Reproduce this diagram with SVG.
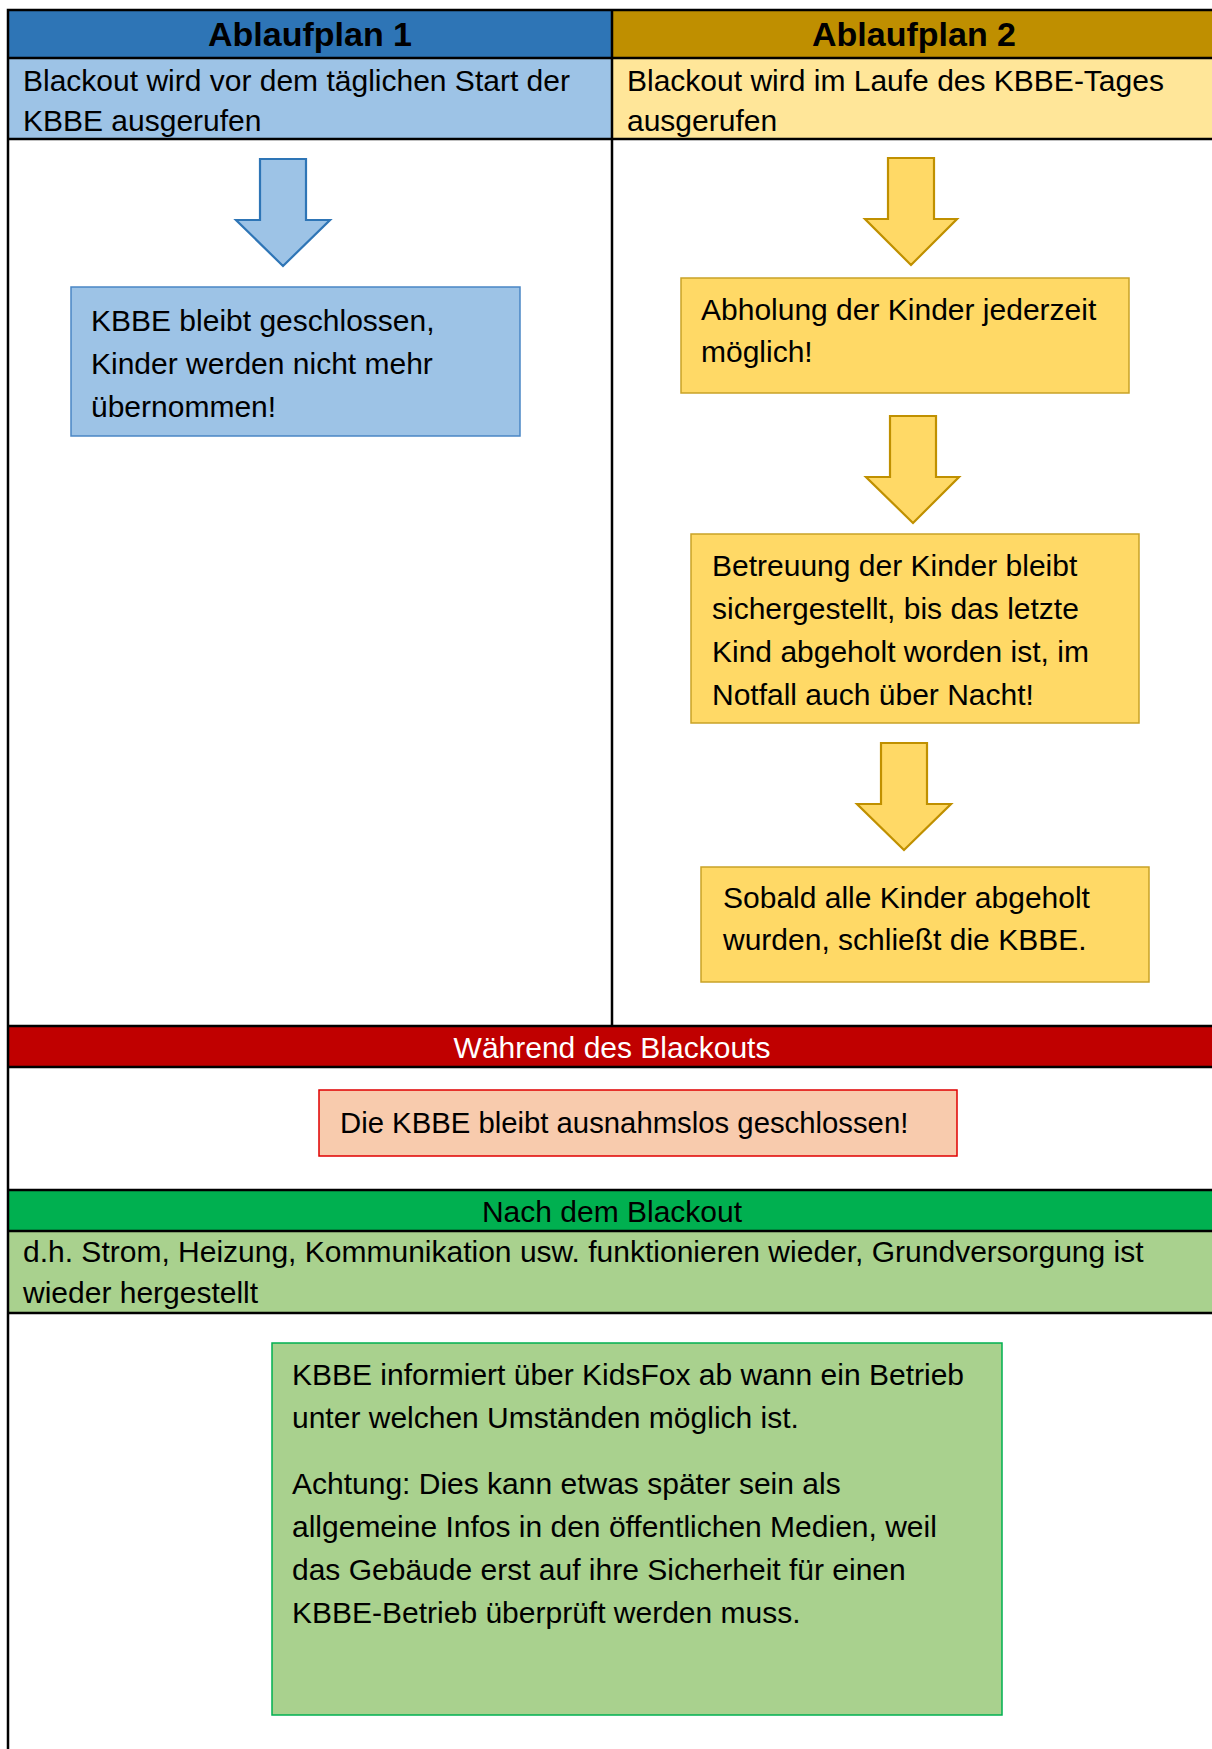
<svg xmlns="http://www.w3.org/2000/svg" width="1212" height="1749" viewBox="0 0 1212 1749">
<style>
text{font-family:"Liberation Sans",Arial,sans-serif;font-size:30px;fill:#000}
.hd{font-weight:bold;font-size:34px;text-anchor:middle}
.ctr{text-anchor:middle}
.wt{fill:#fff}
.sm{font-size:29.3px}
.grid{stroke:#000;stroke-width:2.5;fill:none}
.bbox{fill:#9DC3E6;stroke:#4A86C5;stroke-width:1.5}
.ybox{fill:#FFD966;stroke:#C9A227;stroke-width:1.5}
.barrow{fill:#9DC3E6;stroke:#2E75B6;stroke-width:2.2;stroke-linejoin:miter}
.yarrow{fill:#FFD966;stroke:#C09000;stroke-width:2.2;stroke-linejoin:miter}
</style>
<rect width="1212" height="1749" fill="#fff"/>
<g id="table">
<rect x="8" y="10" width="604" height="48" fill="#2E75B6"/>
<rect x="612" y="10" width="604" height="48" fill="#BF8F00"/>
<rect x="8" y="58" width="604" height="81" fill="#9DC3E6"/>
<rect x="612" y="58" width="604" height="81" fill="#FFE699"/>
<rect x="8" y="1026" width="1208" height="41" fill="#C00000"/>
<rect x="8" y="1190" width="1208" height="41" fill="#00B050"/>
<rect x="8" y="1231" width="1208" height="82" fill="#A9D18E"/>
<path class="grid" d="M8,1749V10H1216M8,58H1216M8,139H1216M8,1026H1216M8,1067H1216M8,1190H1216M8,1231H1216M8,1313H1216M612,10V1026"/>
<text class="hd" x="310" y="46">Ablaufplan 1</text>
<text class="hd" x="914" y="46">Ablaufplan 2</text>
<text x="23" y="91">Blackout wird vor dem täglichen Start der</text>
<text x="23" y="131">KBBE ausgerufen</text>
<text x="627" y="91">Blackout wird im Laufe des KBBE-Tages</text>
<text x="627" y="131">ausgerufen</text>
<text class="ctr wt" x="612" y="1058">Während des Blackouts</text>
<text class="ctr" x="612" y="1222">Nach dem Blackout</text>
<text x="23" y="1262">d.h. Strom, Heizung, Kommunikation usw. funktionieren wieder, Grundversorgung ist</text>
<text x="23" y="1303">wieder hergestellt</text>
</g>
<g id="connectors">
<polygon class="barrow" points="260,159 306,159 306,220 330,220 283,266 236,220 260,220"/>
<polygon class="yarrow" points="888,158 934,158 934,219 957,219 911,265 865,219 888,219"/>
<polygon class="yarrow" points="890,416 936,416 936,477 959,477 913,523 866,477 890,477"/>
<polygon class="yarrow" points="881,743 927,743 927,804 951,804 904,850 857,804 881,804"/>
</g>
<g id="node-closed">
<rect class="bbox" x="71" y="287" width="449" height="149"/>
<text x="91" y="331">KBBE bleibt geschlossen,</text>
<text x="91" y="374">Kinder werden nicht mehr</text>
<text x="91" y="417">übernommen!</text>
</g>
<g id="node-pickup">
<rect class="ybox" x="681" y="278" width="448" height="115"/>
<text x="701" y="320">Abholung der Kinder jederzeit</text>
<text x="701" y="362">möglich!</text>
</g>
<g id="node-care">
<rect class="ybox" x="691" y="534" width="448" height="189"/>
<text x="712" y="576">Betreuung der Kinder bleibt</text>
<text x="712" y="619">sichergestellt, bis das letzte</text>
<text x="712" y="662">Kind abgeholt worden ist, im</text>
<text x="712" y="705">Notfall auch über Nacht!</text>
</g>
<g id="node-close">
<rect class="ybox" x="701" y="867" width="448" height="115"/>
<text x="723" y="908">Sobald alle Kinder abgeholt</text>
<text x="723" y="950">wurden, schließt die KBBE.</text>
</g>
<g id="node-during">
<rect x="319" y="1090" width="638" height="66" fill="#F8CBAD" stroke="#E00000" stroke-width="1.5"/>
<text class="sm" x="340" y="1133">Die KBBE bleibt ausnahmslos geschlossen!</text>
</g>
<g id="node-after">
<rect x="272" y="1343" width="730" height="372" fill="#A9D18E" stroke="#00B050" stroke-width="1.5"/>
<text x="292" y="1385">KBBE informiert über KidsFox ab wann ein Betrieb</text>
<text x="292" y="1428">unter welchen Umständen möglich ist.</text>
<text x="292" y="1494">Achtung: Dies kann etwas später sein als</text>
<text x="292" y="1537">allgemeine Infos in den öffentlichen Medien, weil</text>
<text x="292" y="1580">das Gebäude erst auf ihre Sicherheit für einen</text>
<text x="292" y="1623">KBBE-Betrieb überprüft werden muss.</text>
</g>
</svg>
